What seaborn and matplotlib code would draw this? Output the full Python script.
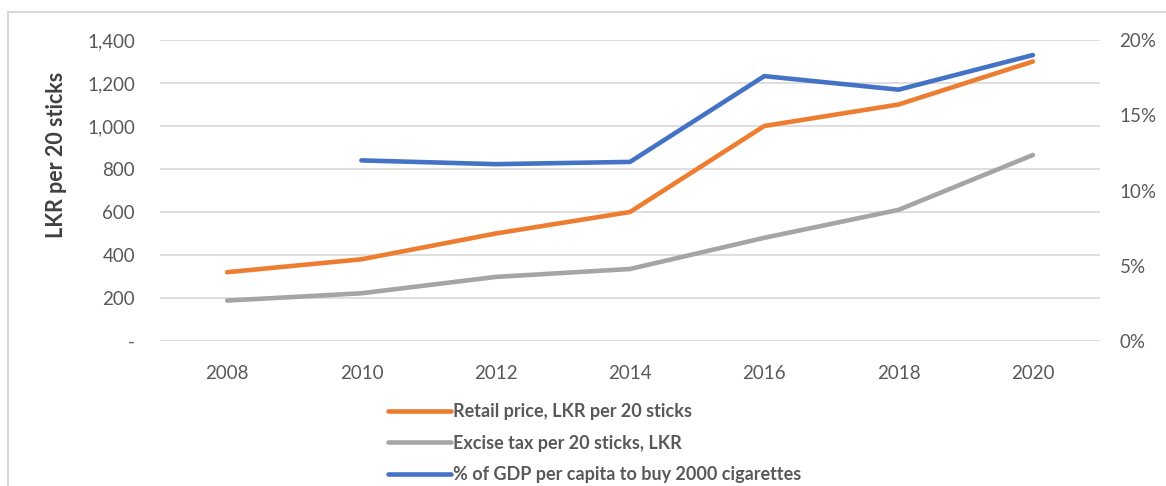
import matplotlib
matplotlib.use("Agg")
import matplotlib.pyplot as plt
import seaborn as sns
import pandas as pd
from matplotlib.ticker import FuncFormatter, FixedLocator
from matplotlib.patches import Rectangle

years = [2008, 2010, 2012, 2014, 2016, 2018, 2020]
retail_price = [320, 380, 500, 600, 1000, 1100, 1300]
excise_tax = [188, 222, 298, 335, 480, 610, 865]
pct_years = [2010, 2012, 2014, 2016, 2018, 2020]
pct_gdp = [12.0, 11.75, 11.9, 17.6, 16.7, 19.0]

lbl_retail = "Retail price, LKR per 20 sticks"
lbl_excise = "Excise tax per 20 sticks, LKR"
lbl_pct = "% of GDP per capita to buy 2000 cigarettes"

sns.set_theme(style="white")
plt.rcParams['font.family'] = ['Lato', 'DejaVu Sans']

c_or, c_gr, c_bl = "#ED7D31", "#A5A5A5", "#4472C4"
tick_col = "#595959"

fig = plt.figure(figsize=(11.66, 4.86), dpi=100)
fig.patches.append(Rectangle((8/1166, -0.1), 1.2, 1 - 12/486 + 0.1, transform=fig.transFigure,
                             fill=False, edgecolor="#d9d9d9", linewidth=1.5))
ax = fig.add_axes([160/1166, 1 - 341/486, 940/1166, 301/486])

df = pd.DataFrame({"year": years, "retail": retail_price, "excise": excise_tax})
dfp = pd.DataFrame({"year": pct_years, "pct": pct_gdp})

sns.lineplot(data=df, x="year", y="retail", ax=ax, color=c_or, linewidth=3.3, label=lbl_retail, legend=False)
sns.lineplot(data=df, x="year", y="excise", ax=ax, color=c_gr, linewidth=3.3, label=lbl_excise, legend=False)
ax2 = ax.twinx()
sns.lineplot(data=dfp, x="year", y="pct", ax=ax2, color=c_bl, linewidth=3.3, label=lbl_pct, legend=False)

ax.set_xlim(2007, 2021)
ax.set_ylim(0, 1400)
ax2.set_ylim(0, 20)
ax.yaxis.set_major_locator(FixedLocator(list(range(0, 1401, 200))))
ax2.yaxis.set_major_locator(FixedLocator([0, 5, 10, 15, 20]))
ax.xaxis.set_major_locator(FixedLocator(years))
ax.yaxis.set_major_formatter(FuncFormatter(lambda v, p: "-" if v == 0 else f"{int(v):,}"))
ax2.yaxis.set_major_formatter(FuncFormatter(lambda v, p: f"{int(v)}%"))

ax.grid(axis="y", color="#d9d9d9", linewidth=1.2)
ax.set_axisbelow(True)
for a in (ax, ax2):
    for s in a.spines.values():
        s.set_visible(False)
ax.tick_params(axis="y", length=0, pad=18, labelsize=13.5, labelcolor=tick_col)
ax.tick_params(axis="x", length=0, pad=17, labelsize=13.5, labelcolor=tick_col)
ax2.tick_params(axis="y", length=0, pad=14, labelsize=13.5, labelcolor=tick_col)
ax.set_xlabel("")
ax2.set_ylabel("")
ax.set_ylabel("LKR per 20 sticks", fontsize=15.5, fontweight="bold", color="#404040")
ax.yaxis.set_label_coords(-93/940, (341 - 155)/301)

handles = ax.get_lines()[:2] + ax2.get_lines()[:1]
leg = fig.legend(handles, [lbl_retail, lbl_excise, lbl_pct], loc="upper left",
                 bbox_to_anchor=(372/1166, 1 - 387/486), frameon=False, ncol=1,
                 handlelength=3.5, handletextpad=0.1, labelspacing=0.8,
                 prop={"weight": "bold", "size": 13}, labelcolor=tick_col)

fig.savefig("out.png", dpi=100)
